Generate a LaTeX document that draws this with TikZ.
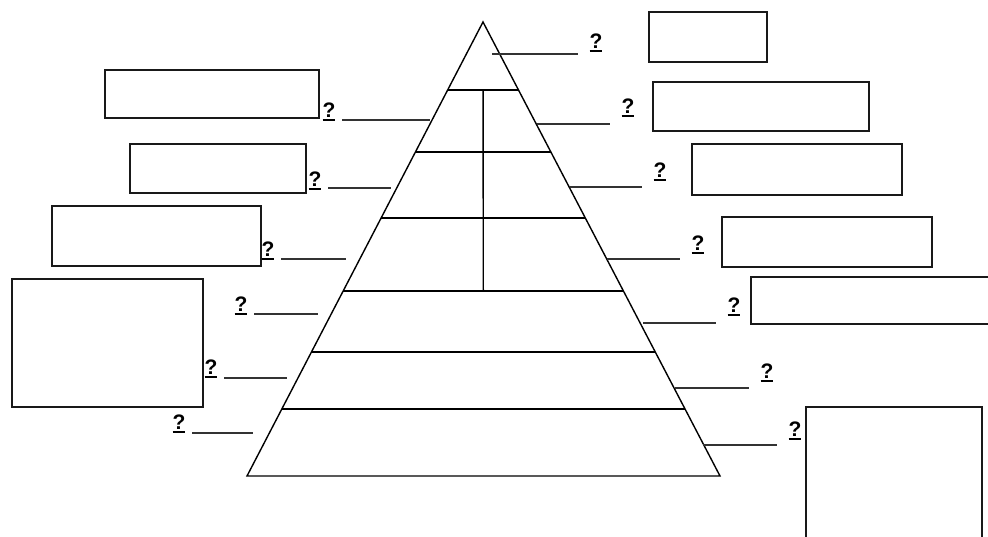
\documentclass[tikz,border=0pt]{standalone}
\usepackage{fontspec}
\setmainfont{Liberation Sans}
\usetikzlibrary{calc,positioning}

\newcommand{\qmk}{\vtop{\hbox{\bfseries ?}\kern0.8pt\hrule height 2pt}}

\begin{document}
\begin{tikzpicture}[
  x=1pt, y=-1pt,
  every node/.style = {inner sep=0pt},
  pyr/.style = {line width=1.4pt, black},
  blank/.style = {draw, line width=1.6pt, black!90, minimum width=#1},
  leader/.style = {line width=1.3pt, black!80},
  lmark/.style = {font=\fontsize{21}{24}\selectfont, inner xsep=6.5pt},
  rmark/.style = {font=\fontsize{21}{24}\selectfont, inner xsep=11pt}
  ]
  \useasboundingbox (0,0) rectangle (988,536);
  \clip (0,0) rectangle (988,536);

  % pyramid
  \coordinate (top) at (483,22);
  \coordinate (bl) at (247,476);
  \coordinate (br) at (720,476);
  \draw[pyr, line join=miter] (top) -- (bl) -- (br) -- cycle;
  \foreach \y/\n in {90/1,152/2,218/3,291/4,352/5,409/6}
  {
    \coordinate (l\n) at ($(top)!{(\y-22)/454}!(bl)$);
    \coordinate (r\n) at ($(top)!{(\y-22)/454}!(br)$);
    \draw[pyr] (l\n) -- (r\n);
  }
  \draw[pyr] ($(l1)!0.5!(r1)$) -- ($(l4)!0.5!(r4)$);

  % left labels
  \foreach \n/\qx/\qy/\ex/\ey in {1/329/112/430/120, 2/315/181/391/188,
    3/268/251/346/259, 4/241/306/318/314, 5/211/369/287/378, 6/179/424/253/433}
  {
    \node[lmark] (lq\n) at (\qx,\qy) {\qmk};
    \coordinate (le\n) at (\ex,\ey);
    \draw[leader] (lq\n.east |- le\n) -- (le\n);
  }

  % right labels
  \foreach \n/\qx/\qy/\ex/\ey in {1/596/43/492/54, 2/628/108/537/124,
    3/660/172/570/187, 4/698/245/607/259, 5/734/307/643/323,
    6/767/373/675/388, 7/795/431/703/445}
  {
    \node[rmark] (rq\n) at (\qx,\qy) {\qmk};
    \coordinate (re\n) at (\ex,\ey);
    \draw[leader] (re\n) -- (rq\n.west |- re\n);
  }

  % answer boxes
  \foreach \n/\cx/\cy/\w/\h in {1/212/94/214/48, 2/218/168.5/176/49,
    3/156.5/236/209/60, 4/107.5/343/191/128}
    \node[blank=\w pt, minimum height=\h pt] (lb\n) at (\cx,\cy) {};
  \foreach \n/\cx/\cy/\w/\h in {1/708/37/118/50, 2/761/106.5/216/49,
    3/797/169.5/210/51, 4/827/242/210/50, 5/875.5/300.5/249/47,
    6/894/483.5/176/153}
    \node[blank=\w pt, minimum height=\h pt] (rb\n) at (\cx,\cy) {};
\end{tikzpicture}
\end{document}
